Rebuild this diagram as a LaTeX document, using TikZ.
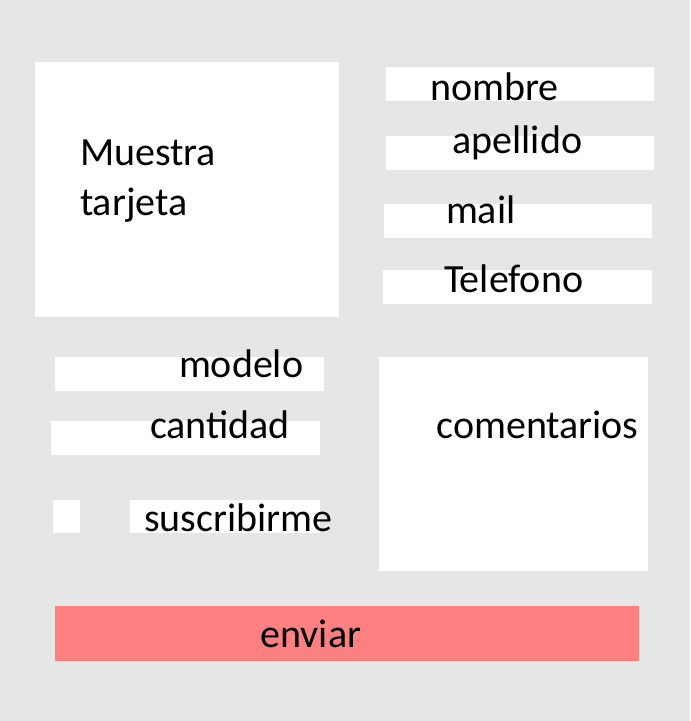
\documentclass[tikz,border=0pt]{standalone}
\usepackage{fontspec}
\setmainfont{Carlito}
\newcommand{\formfont}{\fontsize{30pt}{36pt}\selectfont}

\tikzset{every picture/.style={line width=0.75pt}}

\begin{document}
\begin{tikzpicture}[x=0.75pt,y=0.75pt,yscale=-1,xscale=1,
	field/.style={fill={rgb, 255:red, 255; green, 255; blue, 255 }, draw opacity=0},
	lbl/.style={anchor=base west, inner sep=0pt, font=\formfont}]
	%set diagram left start at 0, and has height of 721
	\useasboundingbox (0,0) rectangle (690,721);

	%Shape: Rectangle [background]
	\draw [fill={rgb, 255:red, 230; green, 230; blue, 230 }, draw opacity=0] (0,0) -- (690,0) -- (690,721) -- (0,721) -- cycle ;
	%Shape: Rectangle [tarjeta]
	\draw [field] (35,62) -- (339,62) -- (339,317) -- (35,317) -- cycle ;
	%Shape: Rectangle [nombre]
	\draw [field] (386,67) -- (654,67) -- (654,101) -- (386,101) -- cycle ;
	%Shape: Rectangle [apellido]
	\draw [field] (386,136) -- (654,136) -- (654,170) -- (386,170) -- cycle ;
	%Shape: Rectangle [mail]
	\draw [field] (384,204) -- (652,204) -- (652,238) -- (384,238) -- cycle ;
	%Shape: Rectangle [telefono]
	\draw [field] (383,270) -- (652,270) -- (652,304) -- (383,304) -- cycle ;
	%Shape: Rectangle [modelo]
	\draw [field] (55,357) -- (324,357) -- (324,391) -- (55,391) -- cycle ;
	%Shape: Rectangle [cantidad]
	\draw [field] (51,421) -- (320,421) -- (320,455) -- (51,455) -- cycle ;
	%Shape: Rectangle [checkbox]
	\draw [field] (53,500) -- (80,500) -- (80,533) -- (53,533) -- cycle ;
	%Shape: Rectangle [suscribirme]
	\draw [field] (130,500) -- (320,500) -- (320,533) -- (130,533) -- cycle ;
	%Shape: Rectangle [comentarios]
	\draw [field] (379,357) -- (648,357) -- (648,571) -- (379,571) -- cycle ;
	%Shape: Rectangle [enviar]
	\draw [fill={rgb, 255:red, 255; green, 128; blue, 128 }, draw opacity=0] (55,606) -- (639,606) -- (639,661) -- (55,661) -- cycle ;

	% Text Node
	\draw (79.5,165.5) node [lbl] (muestra) {Muestra};
	% Text Node
	\draw (79.5,215.5) node [lbl] (tarjeta) {tarjeta};
	% Text Node
	\draw (430,100.5) node [lbl] (nombre) {nombre};
	% Text Node
	\draw (452,153.5) node [lbl] (apellido) {apellido};
	% Text Node
	\draw (445.5,223) node [lbl] (mail) {mail};
	% Text Node
	\draw (443.5,292.5) node [lbl] (telefono) {Telefono};
	% Text Node
	\draw (178.5,377) node [lbl] (modelo) {modelo};
	% Text Node
	\draw (149.5,438.5) node [lbl] (cantidad) {cantidad};
	% Text Node
	\draw (143.5,531) node [lbl] (suscribirme) {suscribirme};
	% Text Node
	\draw (436,438) node [lbl] (comentarios) {comentarios};
	% Text Node
	\draw (260,647) node [lbl] (enviar) {enviar};

\end{tikzpicture}
\end{document}
